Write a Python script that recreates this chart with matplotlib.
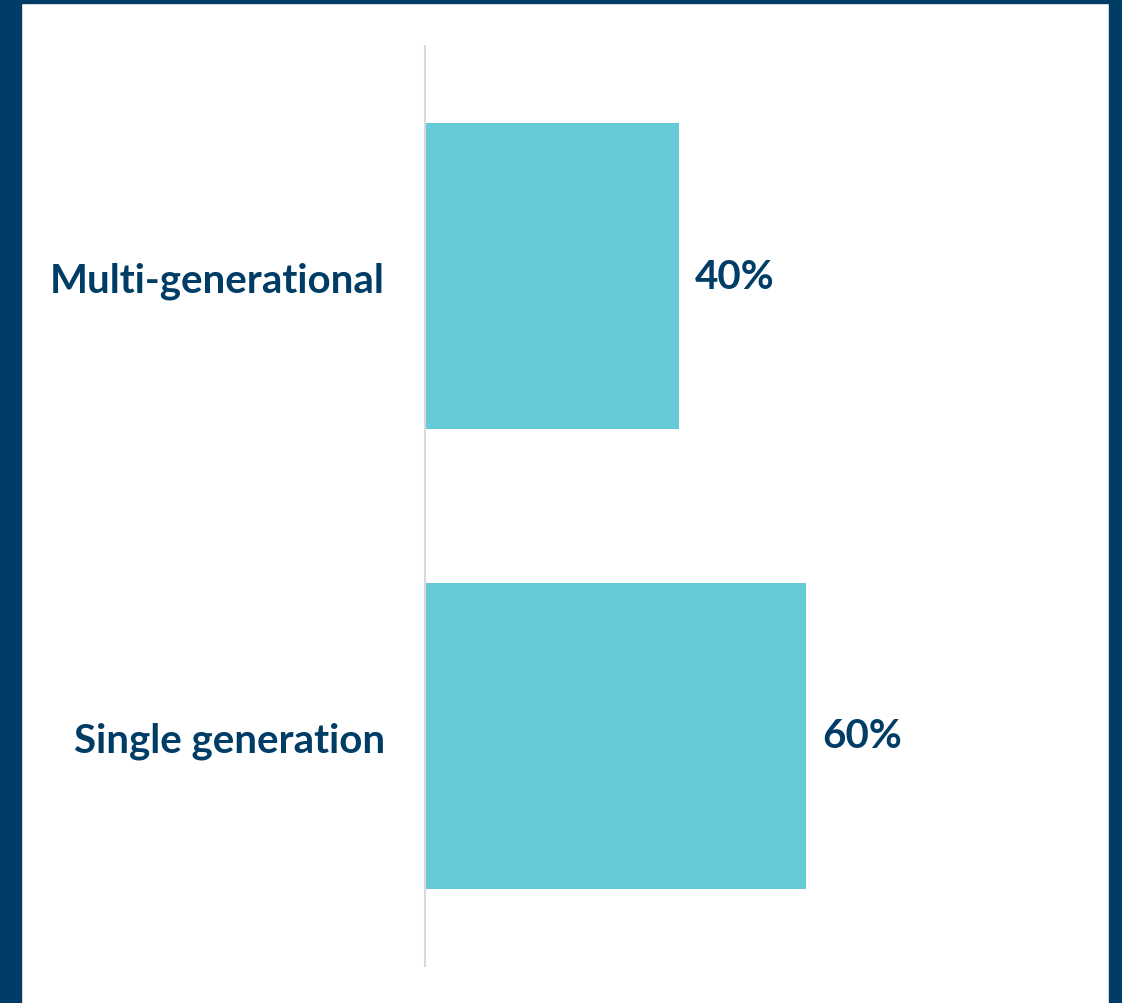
import matplotlib.pyplot as plt
from matplotlib.patches import Rectangle

categories = ["Multi-generational", "Single generation"]
shares = [40, 60]

NAVY = "#003d66"
TEAL = "#67cad9"

fig = plt.figure(figsize=(11.22, 10.04), dpi=100)
fig.patch.set_facecolor("white")

# dark frame around the white panel
fig.patches.append(Rectangle((0, 0), 21 / 1122, 1, transform=fig.transFigure, color=NAVY, zorder=0))
fig.patches.append(Rectangle((1109 / 1122, 0), 13 / 1122, 1, transform=fig.transFigure, color=NAVY, zorder=0))
fig.patches.append(Rectangle((0, 1 - 4 / 1004), 1, 4 / 1004, transform=fig.transFigure, color=NAVY, zorder=0))

ax = fig.add_axes([425 / 1122, 1 - 967 / 1004, 635 / 1122, 920 / 1004])
ax.set_facecolor("none")

ypos = list(range(len(categories)))
bars = ax.barh(ypos, shares, height=0.667, color=TEAL)
ax.set_xlim(0, 100)
ax.set_ylim(len(categories) - 0.5, -0.5)

for y, v in zip(ypos, shares):
    ax.text(v + 2.5, y, f"{v}%", va="center", ha="left", fontsize=29,
            fontweight="bold", color=NAVY, family="Lato")

ax.set_yticks(ypos)
ax.set_yticklabels(categories, fontsize=29, fontweight="bold", color=NAVY, family="Lato")
ax.tick_params(axis="y", length=0, pad=29)
ax.set_xticks([])
for s in ["top", "right", "bottom"]:
    ax.spines[s].set_visible(False)
ax.spines["left"].set_color("#d9d9d9")
ax.spines["left"].set_linewidth(1.5)

fig.savefig("out.png", dpi=100)
